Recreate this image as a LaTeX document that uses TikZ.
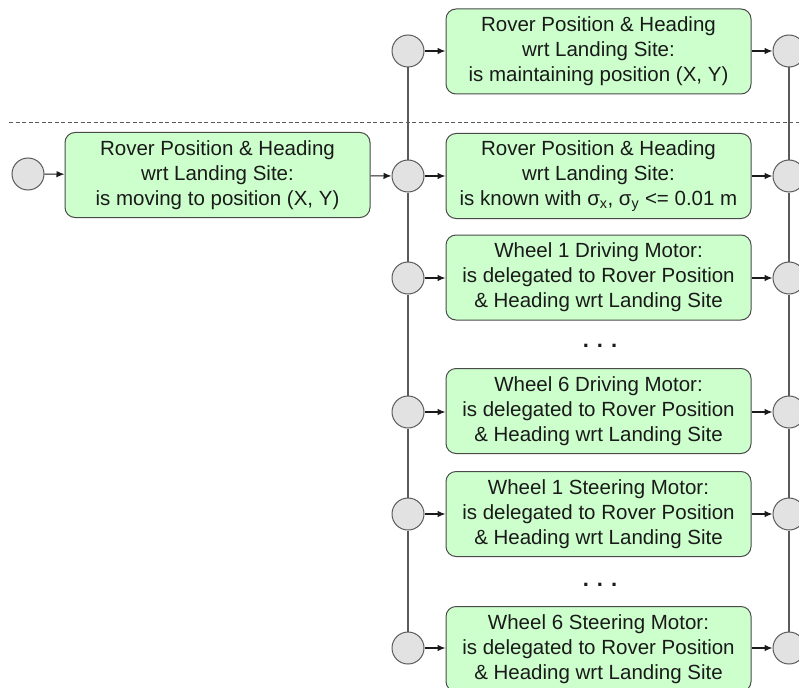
\documentclass[tikz,border=0pt]{standalone}
\usepackage{fontspec}
\setmainfont{Liberation Sans}
\usetikzlibrary{arrows.meta}
\definecolor{boxfill}{HTML}{CCFFCC}
\definecolor{boxline}{HTML}{4A4A4A}
\definecolor{circfill}{HTML}{E2E2E2}
\definecolor{wire}{HTML}{5A5A5A}
\definecolor{ink}{HTML}{1A1A1A}
\begin{document}
\begin{tikzpicture}[x=1pt,y=-1pt,
  goal/.style={draw=boxline, fill=boxfill, rounded corners=10pt,
    minimum width=305pt, minimum height=85pt, line width=1pt,
    align=center, text=ink, inner sep=0pt,
    font=\fontsize{20.5}{25}\selectfont},
  junction/.style={circle, draw=wire, fill=circfill, minimum size=32pt,
    inner sep=0pt, line width=1pt},
  flow/.style={draw=ink, line width=1.1pt, -{Latex[length=8pt,width=6.5pt]}},
  wireline/.style={draw=wire, line width=1.1pt},
  ellipsis/.style={anchor=base, text=ink, font=\fontsize{22}{24}\selectfont\bfseries}]
\useasboundingbox (0,0) rectangle (799,687);

% mode separator
\coordinate (sepL) at (9,122);
\coordinate (sepR) at (799,122);
\draw[wire, line width=0.9pt, dash pattern=on 4pt off 2.5pt] (sepL) -- (sepR);

% entry goal
\node[junction] (s0) at (28,174) {};
\node[goal] (g0) at (217.5,175) {Rover Position \& Heading\\wrt Landing Site:\\is moving to position (X, Y)};

% left junction column
\node[junction] (a1) at (408,51) {};
\node[junction] (a2) at (408,176) {};
\node[junction] (a3) at (408,278) {};
\node[junction] (a4) at (408,412) {};
\node[junction] (a5) at (408,514) {};
\node[junction] (a6) at (408,648) {};

% right junction column
\node[junction] (b1) at (789,51) {};
\node[junction] (b2) at (789,176) {};
\node[junction] (b3) at (789,278) {};
\node[junction] (b4) at (789,412) {};
\node[junction] (b5) at (789,514) {};
\node[junction] (b6) at (789,648) {};

% sub-goals
\node[goal] (g1) at (598.5,51.5) {Rover Position \& Heading\\wrt Landing Site:\\is maintaining position (X, Y)};
\node[goal] (g2) at (598.5,176) {Rover Position \& Heading\\wrt Landing Site:\\is known with σ\textsubscript{x}, σ\textsubscript{y} <= 0.01 m};
\node[goal] (g3) at (598.5,277.5) {Wheel 1 Driving Motor:\\is delegated to Rover Position\\\& Heading wrt Landing Site};
\node[goal] (g4) at (598.5,411) {Wheel 6 Driving Motor:\\is delegated to Rover Position\\\& Heading wrt Landing Site};
\node[goal] (g5) at (598.5,514) {Wheel 1 Steering Motor:\\is delegated to Rover Position\\\& Heading wrt Landing Site};
\node[goal] (g6) at (598.5,649) {Wheel 6 Steering Motor:\\is delegated to Rover Position\\\& Heading wrt Landing Site};

% elided rows
\node[ellipsis] (d1) at (600,347) {.\hspace{8pt}.\hspace{8pt}.};
\node[ellipsis] (d2) at (600,586) {.\hspace{8pt}.\hspace{8pt}.};

% vertical buses
\foreach \i/\j in {1/2,2/3,3/4,4/5,5/6}{
  \draw[wireline] (a\i) -- (a\j);
  \draw[wireline] (b\i) -- (b\j);
}

% flow arrows
\draw[flow] (s0) -- (g0);
\draw[flow] (g0) -- (a2);
\foreach \i in {1,...,6}{
  \draw[flow] (a\i) -- (g\i.west |- a\i);
  \draw[flow] (g\i.east |- b\i) -- (b\i);
}
\end{tikzpicture}
\end{document}
